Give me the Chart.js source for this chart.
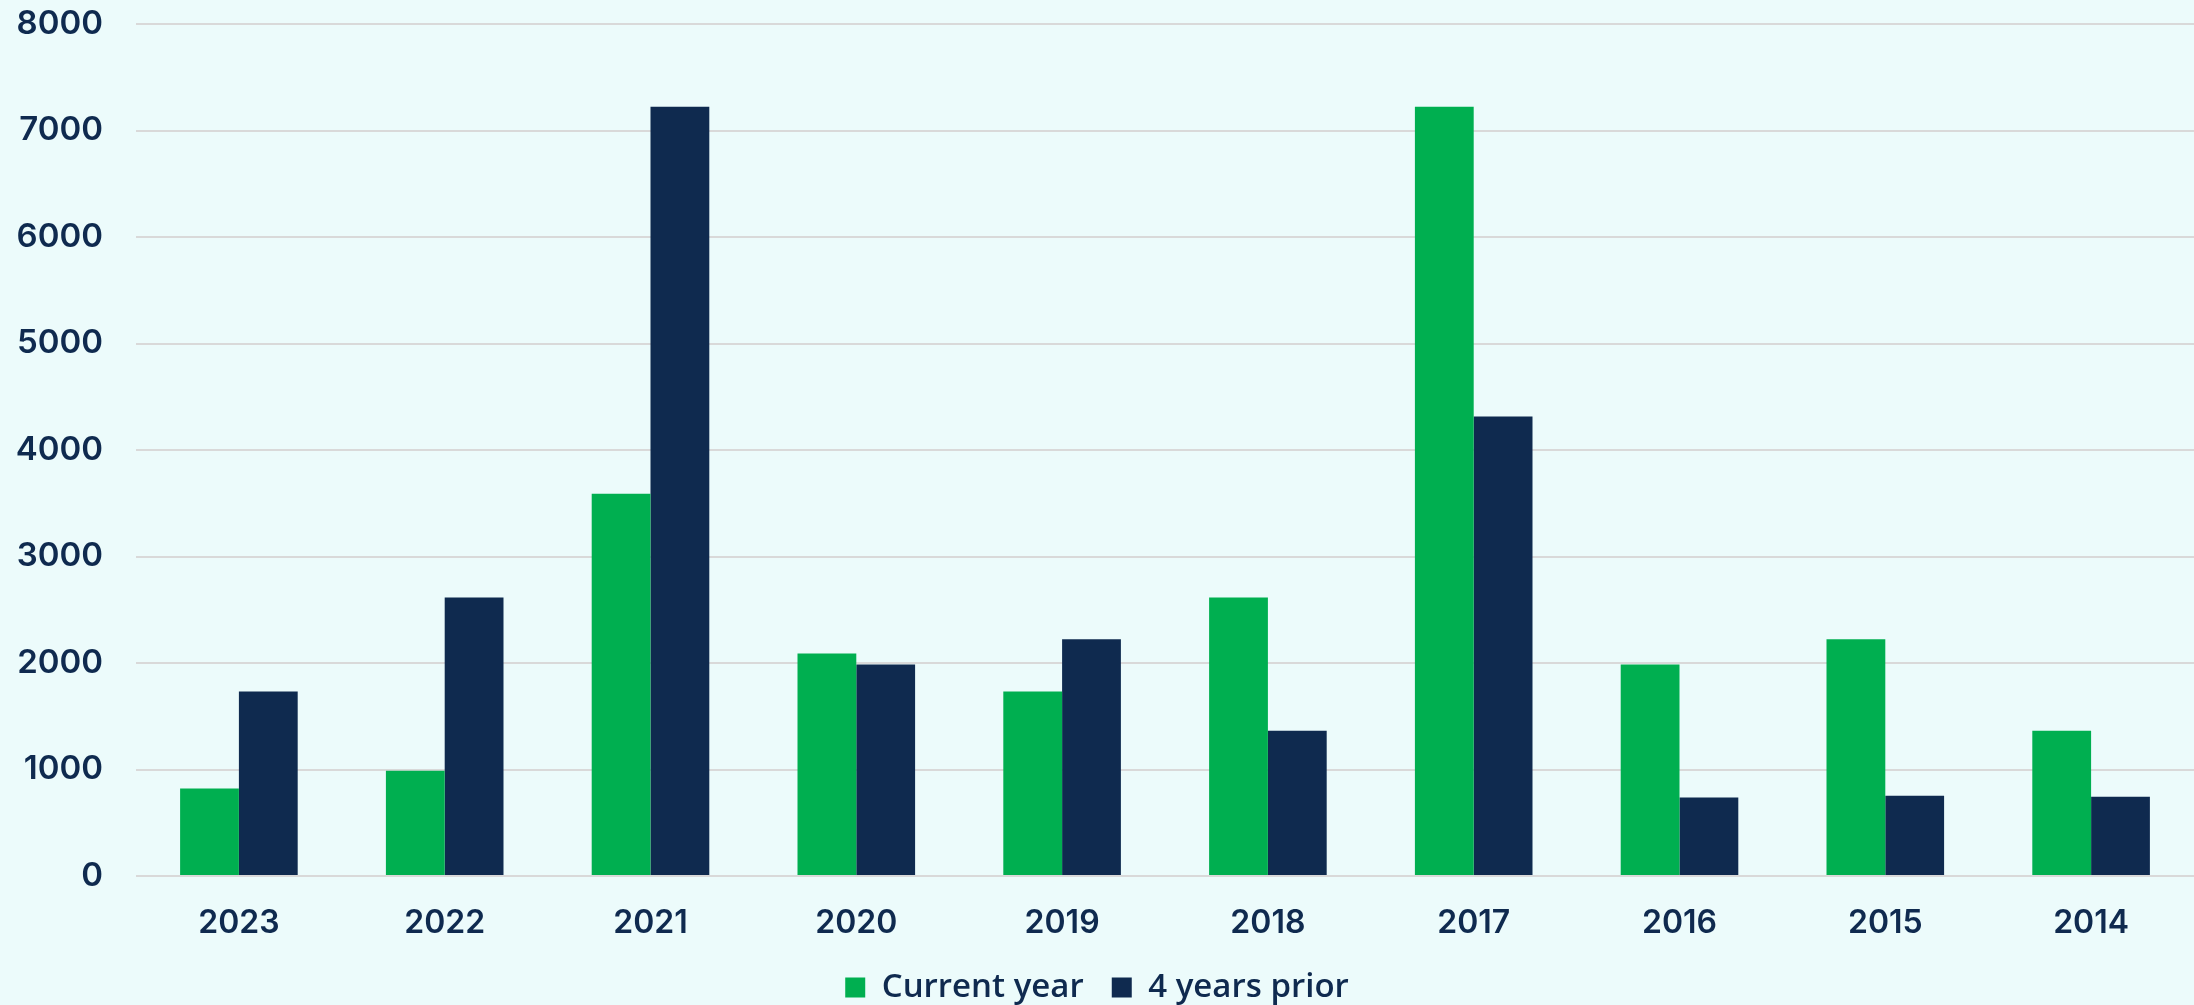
<!DOCTYPE html>
<html>
<head>
<meta charset="utf-8">
<script src="https://cdn.jsdelivr.net/npm/chart.js@4.4.1/dist/chart.umd.min.js"></script>
<style>
  html, body { margin: 0; padding: 0; background: #ecfbfb; }
  #wrap { width: 2194px; height: 1005px; }
</style>
</head>
<body>
<div id="wrap"><canvas id="myChart"></canvas></div>
<script>
// datos
const years = ['2023', '2022', '2021', '2020', '2019', '2018', '2017', '2016', '2015', '2014'];
const currentYear = [822, 988, 3590, 2090, 1733, 2616, 7222, 1985, 2223, 1365];
const fourYearsPrior = [1733, 2616, 7222, 1985, 2223, 1365, 4315, 737, 753, 743];
const yTicks = [0, 1000, 2000, 3000, 4000, 5000, 6000, 7000, 8000];

const navy = '#0f2a4f';
const green = '#00af50';

const ctx = document.getElementById('myChart').getContext('2d');
new Chart(ctx, {
    type: 'bar',
    data: {
        labels: years,
        datasets: [
            { label: 'Current year', data: currentYear, backgroundColor: green, categoryPercentage: 0.5714, barPercentage: 1.0 },
            { label: '4 years prior', data: fourYearsPrior, backgroundColor: navy, categoryPercentage: 0.5714, barPercentage: 1.0 }
        ]
    },
    options: {
        responsive: true,
        maintainAspectRatio: false,
        animation: false,
        // padding negativo abajo para bajar la leyenda
        layout: { padding: { top: 0, right: 0, left: 0, bottom: -9 } },
        plugins: {
            tooltip: { enabled: false },
            legend: {
                position: 'bottom',
                labels: {
                    color: navy,
                    font: { family: 'Open Sans', size: 33, weight: '600' },
                    boxWidth: 20,
                    boxHeight: 20,
                    padding: 28
                }
            }
        },
        scales: {
            x: {
                grid: { display: false, drawTicks: false },
                border: { display: false },
                ticks: { color: navy, font: { family: 'Inter', size: 32, weight: '600' }, padding: 28 },
                afterFit: (s) => { s.height = 67; }
            },
            y: {
                min: 0,
                max: 8000,
                afterBuildTicks: (s) => { s.ticks = yTicks.map(v => ({ value: v })); },
                grid: { color: '#d9d9d9', lineWidth: 2, drawTicks: false },
                border: { display: false },
                ticks: {
                    color: navy,
                    font: { family: 'Inter', size: 33, weight: '600' },
                    padding: 33,
                    callback: (v) => String(v)
                },
                afterFit: (s) => { s.width = 136; s.paddingTop = 24; s.paddingBottom = 0; }
            }
        }
    }
});
</script>
</body>
</html>
